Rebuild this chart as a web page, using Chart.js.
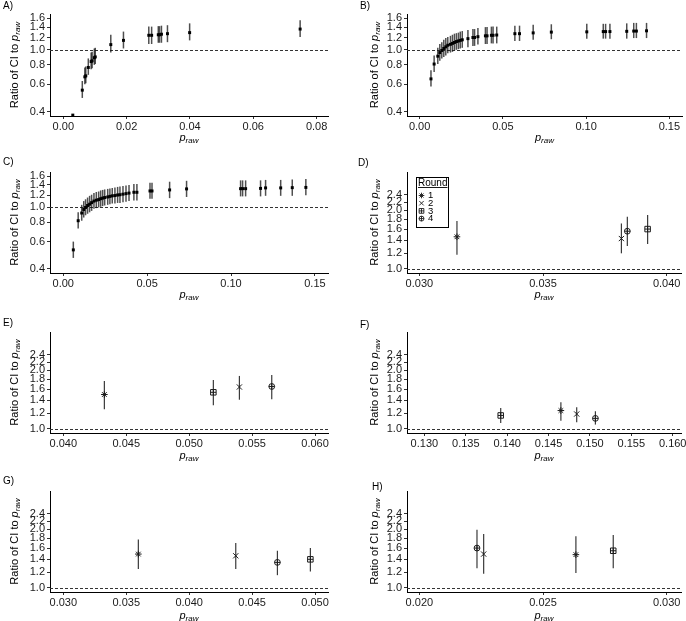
<!DOCTYPE html>
<html>
<head>
<meta charset="utf-8">
<script src="https://cdn.jsdelivr.net/npm/chart.js@4.4.1/dist/chart.umd.min.js"></script>
<style>
  html, body { margin: 0; padding: 0; background: #fff; }
  #fig { position: relative; width: 686px; height: 621px; overflow: hidden; }
  #fig canvas { position: absolute; }
</style>
</head>
<body>
<div id="fig"></div>
<script>
// ---------- data ----------
const yTicksWide = [0.4, 0.6, 0.8, 1.0, 1.2, 1.4, 1.6];
const yTicksRound = [1.0, 1.2, 1.4, 1.6, 1.8, 2.0, 2.2, 2.4];
const rounds = ['1', '2', '3', '4'];
const legendTitle = 'Round';
const refRatio = 1.0;

// A)
const xTicksA = [0, 0.02, 0.04, 0.06, 0.08];
const pA  = [0.0030, 0.0060, 0.0068, 0.0071, 0.0079, 0.0088, 0.0091, 0.0098, 0.0101, 0.0150, 0.0190, 0.0270, 0.0279, 0.0300, 0.0304, 0.0310, 0.0329, 0.0399, 0.0748];
const rA  = [0.38, 0.55, 0.67, 0.68, 0.77, 0.84, 0.85, 0.89, 0.90, 1.08, 1.15, 1.24, 1.24, 1.25, 1.25, 1.26, 1.27, 1.29, 1.36];
const loA = [0.375, 0.49, 0.60, 0.61, 0.69, 0.75, 0.76, 0.80, 0.81, 0.96, 1.02, 1.09, 1.09, 1.11, 1.11, 1.11, 1.12, 1.15, 1.21];
const hiA = [0.385, 0.63, 0.77, 0.78, 0.88, 0.96, 0.97, 1.02, 1.03, 1.25, 1.31, 1.41, 1.41, 1.42, 1.42, 1.43, 1.44, 1.48, 1.55];

// B)
const xTicksB = [0, 0.05, 0.10, 0.15];
const pB  = [0.0068, 0.0087, 0.0109, 0.0121, 0.0133, 0.0145, 0.0157, 0.0169, 0.0185, 0.0197, 0.0209, 0.0221, 0.0233, 0.0244, 0.0256, 0.0290, 0.0320, 0.0330, 0.0350, 0.0395, 0.0405, 0.0431, 0.0441, 0.0463, 0.0572, 0.0600, 0.0682, 0.0791, 0.1004, 0.1103, 0.1117, 0.1143, 0.1244, 0.1286, 0.1302, 0.1363];
const rB  = [0.65, 0.81, 0.91, 0.96, 0.99, 1.02, 1.045, 1.07, 1.085, 1.10, 1.115, 1.13, 1.14, 1.15, 1.16, 1.18, 1.20, 1.20, 1.215, 1.23, 1.23, 1.24, 1.24, 1.245, 1.27, 1.27, 1.285, 1.30, 1.305, 1.31, 1.31, 1.31, 1.315, 1.32, 1.32, 1.325];
const loB = [0.58, 0.72, 0.81, 0.85, 0.88, 0.90, 0.92, 0.95, 0.96, 0.97, 0.99, 1.00, 1.01, 1.02, 1.03, 1.04, 1.06, 1.06, 1.08, 1.09, 1.09, 1.10, 1.10, 1.10, 1.14, 1.14, 1.16, 1.17, 1.18, 1.18, 1.18, 1.18, 1.18, 1.19, 1.19, 1.19];
const hiB = [0.74, 0.92, 1.03, 1.09, 1.12, 1.16, 1.19, 1.21, 1.23, 1.25, 1.27, 1.28, 1.29, 1.31, 1.32, 1.34, 1.36, 1.36, 1.38, 1.40, 1.40, 1.41, 1.41, 1.41, 1.43, 1.43, 1.45, 1.46, 1.47, 1.47, 1.47, 1.47, 1.48, 1.49, 1.49, 1.49];

// C)
const xTicksC = [0, 0.05, 0.10, 0.15];
const pC  = [0.0060, 0.0089, 0.0110, 0.0122, 0.0133, 0.0145, 0.0157, 0.0169, 0.0183, 0.0197, 0.0211, 0.0223, 0.0235, 0.0247, 0.0265, 0.0278, 0.0292, 0.0308, 0.0324, 0.0338, 0.0356, 0.0374, 0.0392, 0.0421, 0.0439, 0.0517, 0.0529, 0.0634, 0.0735, 0.1057, 0.1069, 0.1087, 0.1176, 0.1206, 0.1296, 0.1365, 0.1446];
const rC  = [0.53, 0.82, 0.92, 0.97, 1.00, 1.03, 1.05, 1.075, 1.10, 1.115, 1.125, 1.14, 1.15, 1.16, 1.17, 1.18, 1.19, 1.195, 1.205, 1.21, 1.22, 1.23, 1.24, 1.255, 1.255, 1.28, 1.28, 1.30, 1.32, 1.325, 1.325, 1.325, 1.33, 1.34, 1.34, 1.345, 1.35];
const loC = [0.47, 0.73, 0.82, 0.86, 0.89, 0.91, 0.93, 0.95, 0.98, 0.99, 1.00, 1.01, 1.02, 1.03, 1.04, 1.05, 1.06, 1.06, 1.07, 1.07, 1.08, 1.09, 1.10, 1.11, 1.11, 1.14, 1.14, 1.15, 1.17, 1.18, 1.18, 1.18, 1.18, 1.19, 1.19, 1.19, 1.20];
const hiC = [0.60, 0.93, 1.04, 1.10, 1.13, 1.16, 1.19, 1.21, 1.24, 1.26, 1.27, 1.29, 1.30, 1.31, 1.32, 1.33, 1.34, 1.35, 1.36, 1.37, 1.38, 1.39, 1.40, 1.42, 1.42, 1.45, 1.45, 1.47, 1.49, 1.50, 1.50, 1.50, 1.50, 1.51, 1.51, 1.52, 1.53];

// D) to H): one value per round (1, 2, 3, 4)
const xTicksD = [0.030, 0.035, 0.040];
const pD  = [0.03152, 0.03817, 0.03923, 0.03841];
const rD  = [1.46, 1.43, 1.60, 1.56];
const loD = [1.18, 1.20, 1.34, 1.31];
const hiD = [1.76, 1.71, 1.89, 1.85];

const xTicksE = [0.040, 0.045, 0.050, 0.055, 0.060];
const pE  = [0.04326, 0.05399, 0.05192, 0.05656];
const rE  = [1.50, 1.64, 1.54, 1.65];
const loE = [1.26, 1.41, 1.32, 1.42];
const hiE = [1.76, 1.87, 1.78, 1.89];

const xTicksF = [0.130, 0.135, 0.140, 0.145, 0.150, 0.155, 0.160];
const pF  = [0.14649, 0.14840, 0.13922, 0.15066];
const rF  = [1.24, 1.19, 1.17, 1.13];
const loF = [1.10, 1.08, 1.07, 1.05];
const hiF = [1.37, 1.29, 1.28, 1.23];

const xTicksG = [0.030, 0.035, 0.040, 0.045, 0.050];
const pG  = [0.03596, 0.04370, 0.04963, 0.04701];
const rG  = [1.49, 1.46, 1.40, 1.35];
const loG = [1.25, 1.25, 1.21, 1.16];
const hiG = [1.77, 1.70, 1.60, 1.55];

const xTicksH = [0.020, 0.025, 0.030];
const pH  = [0.02633, 0.02260, 0.02784, 0.02233];
const rH  = [1.48, 1.49, 1.55, 1.60];
const loH = [1.19, 1.18, 1.26, 1.26];
const hiH = [1.84, 1.89, 1.87, 1.99];

// ---------- layout ----------
const cols = [
  { left: 0,   width: 343, plotLeft: 50, plotRight: 328, titleX: 15 },
  { left: 343, width: 343, plotLeft: 64, plotRight: 341, titleX: 32 }
];
const rows = [
  { top: 0,   height: 155, plotTop: 14, plotBottom: 116, xTitleDy: 22 },
  { top: 155, height: 155, plotTop: 17, plotBottom: 118, xTitleDy: 22 },
  { top: 310, height: 155, plotTop: 22, plotBottom: 123, xTitleDy: 23 },
  { top: 465, height: 156, plotTop: 26, plotBottom: 127, xTitleDy: 24 }
];

const panels = [
  { name: 'A)', col: 0, row: 0, letter: [3, 6],  p: pA, r: rA, lo: loA, hi: hiA, xTicks: xTicksA, dec: 2, xMin: -0.0042, xMax: 0.0836 },
  { name: 'B)', col: 1, row: 0, letter: [17, 6], p: pB, r: rB, lo: loB, hi: hiB, xTicks: xTicksB, dec: 2, xMin: -0.0076, xMax: 0.1576 },
  { name: 'C)', col: 0, row: 1, letter: [3, 7],  p: pC, r: rC, lo: loC, hi: hiC, xTicks: xTicksC, dec: 2, xMin: -0.0079, xMax: 0.1578 },
  { name: 'D)', col: 1, row: 1, letter: [15, 8], p: pD, r: rD, lo: loD, hi: hiD, xTicks: xTicksD, dec: 3, xMin: 0.0295, xMax: 0.04058, byRound: true,
    legend: { x: 73, y: 22, w: 32, h: 50 } },
  { name: 'E)', col: 0, row: 2, letter: [3, 13], p: pE, r: rE, lo: loE, hi: hiE, xTicks: xTicksE, dec: 3, xMin: 0.03894, xMax: 0.06103, byRound: true },
  { name: 'F)', col: 1, row: 2, letter: [17, 15], p: pF, r: rF, lo: loF, hi: hiF, xTicks: xTicksF, dec: 3, xMin: 0.1279, xMax: 0.1610, byRound: true },
  { name: 'G)', col: 0, row: 3, letter: [3, 16], p: pG, r: rG, lo: loG, hi: hiG, xTicks: xTicksG, dec: 3, xMin: 0.02894, xMax: 0.05103, byRound: true },
  { name: 'H)', col: 1, row: 3, letter: [29, 22], p: pH, r: rH, lo: loH, hi: hiH, xTicks: xTicksH, dec: 3, xMin: 0.0195, xMax: 0.03058, byRound: true }
];

const FONT = '"Liberation Sans", Arial, sans-serif';
const INK = '#1a1a1a';

// glyph layers per round: asterisk, cross, square with plus, circle with plus
const roundGlyphs = [
  [{ style: 'star', radius: 3.3 }],
  [{ style: 'crossRot', radius: 3.7 }],
  [{ style: 'rect', radius: 3.9 }, { style: 'cross', radius: 2.75 }],
  [{ style: 'circle', radius: 2.9 }, { style: 'cross', radius: 2.9 }]
];

const decor = {
  id: 'decor',
  beforeDatasetsDraw(chart) {
    const { ctx, chartArea: a, scales: { x, y } } = chart;
    ctx.save();
    const yy = Math.round(y.getPixelForValue(refRatio)) + 0.5;
    ctx.strokeStyle = '#333';
    ctx.lineWidth = 1;
    ctx.setLineDash([3, 2]);
    ctx.beginPath();
    ctx.moveTo(a.left, yy);
    ctx.lineTo(a.right, yy);
    ctx.stroke();
    ctx.setLineDash([]);
    chart.data.datasets.forEach(ds => {
      if (!ds.barColor) return;
      ctx.strokeStyle = ds.barColor;
      ctx.lineWidth = ds.barWidth;
      ds.data.forEach(pt => {
        const px = x.getPixelForValue(pt.x);
        ctx.beginPath();
        ctx.moveTo(px, y.getPixelForValue(pt.lo));
        ctx.lineTo(px, y.getPixelForValue(pt.hi));
        ctx.stroke();
      });
    });
    ctx.restore();
  },
  afterDraw(chart) {
    const { ctx, chartArea: a } = chart;
    const o = chart.options.plugins.decor;
    ctx.save();
    ctx.fillStyle = '#000';
    ctx.textBaseline = 'middle';
    ctx.textAlign = 'left';

    ctx.font = '10px ' + FONT;
    ctx.fillText(o.name, o.letter[0], o.letter[1]);

    const parts = [
      { t: 'Ratio of CI to ', f: '11px ' + FONT, dy: 0 },
      { t: 'p', f: 'italic 11px ' + FONT, dy: 0 },
      { t: 'raw', f: 'italic 8px ' + FONT, dy: 3 }
    ];
    let total = 0;
    parts.forEach(pt => { ctx.font = pt.f; pt.w = ctx.measureText(pt.t).width; total += pt.w; });
    ctx.save();
    ctx.translate(o.titleX, (a.top + a.bottom) / 2);
    ctx.rotate(-Math.PI / 2);
    let cx = -total / 2;
    parts.forEach(pt => { ctx.font = pt.f; ctx.fillText(pt.t, cx, pt.dy); cx += pt.w; });
    ctx.restore();

    const xp = [
      { t: 'p', f: 'italic 11px ' + FONT, dy: 0 },
      { t: 'raw', f: 'italic 8px ' + FONT, dy: 3 }
    ];
    total = 0;
    xp.forEach(pt => { ctx.font = pt.f; pt.w = ctx.measureText(pt.t).width; total += pt.w; });
    cx = (a.left + a.right) / 2 - total / 2;
    const ty = a.bottom + o.xTitleDy;
    xp.forEach(pt => { ctx.font = pt.f; ctx.fillText(pt.t, cx, ty + pt.dy); cx += pt.w; });

    if (o.legend) {
      const L = o.legend;
      ctx.fillStyle = '#fff';
      ctx.fillRect(L.x, L.y, L.w, L.h);
      ctx.strokeStyle = '#000';
      ctx.lineWidth = 1;
      ctx.strokeRect(L.x + 0.5, L.y + 0.5, L.w, L.h);
      ctx.fillStyle = '#000';
      ctx.font = '10px ' + FONT;
      ctx.fillText(legendTitle, L.x + 2, L.y + 6);
      const tw = ctx.measureText(legendTitle).width;
      ctx.fillRect(L.x + 2, L.y + 10, tw, 0.9);
      rounds.forEach((lab, i) => {
        const iy = L.y + 18.5 + i * 7.7;
        roundGlyphs[i].forEach(g => {
          ctx.save();
          ctx.strokeStyle = INK;
          ctx.fillStyle = 'rgba(0,0,0,0)';
          ctx.lineWidth = 0.9;
          Chart.helpers.drawPoint(ctx, { pointStyle: g.style, radius: g.radius * 0.85, rotation: 0, borderWidth: 0.9 }, L.x + 5.5, iy);
          ctx.restore();
        });
        ctx.fillStyle = '#000';
        ctx.font = '9.5px ' + FONT;
        ctx.fillText(lab, L.x + 12, iy);
      });
    }
    ctx.restore();
  }
};

function makePanel(P) {
  const col = cols[P.col], row = rows[P.row];
  const canvas = document.createElement('canvas');
  canvas.width = col.width;
  canvas.height = row.height;
  canvas.style.left = col.left + 'px';
  canvas.style.top = row.top + 'px';
  document.getElementById('fig').appendChild(canvas);

  const yTicks = P.byRound ? yTicksRound : yTicksWide;
  const yMin = P.byRound ? 0.95 : 0.375;
  const yMax = P.byRound ? 3.15 : 1.70;

  let datasets = [];
  if (P.byRound) {
    rounds.forEach((lab, i) => {
      roundGlyphs[i].forEach((g, k) => {
        datasets.push({
          label: lab,
          data: [{ x: P.p[i], y: P.r[i], lo: P.lo[i], hi: P.hi[i] }],
          pointStyle: g.style,
          pointRadius: g.radius,
          pointBorderWidth: 1,
          borderColor: INK,
          backgroundColor: 'rgba(0,0,0,0)',
          barColor: k === 0 ? '#3a3a3a' : null,
          barWidth: 1.2
        });
      });
    });
  } else {
    datasets = [{
      label: 'ratio',
      data: P.p.map((v, i) => ({ x: v, y: P.r[i], lo: P.lo[i], hi: P.hi[i] })),
      pointStyle: 'rect',
      pointRadius: 2.1,
      pointBorderWidth: 0,
      backgroundColor: '#000',
      barColor: 'rgba(20,20,20,0.75)',
      barWidth: 1.5
    }];
  }

  const tickFont = { family: FONT, size: 11 };
  new Chart(canvas, {
    type: 'scatter',
    data: { datasets: datasets },
    options: {
      responsive: false,
      animation: false,
      events: [],
      layout: { padding: { left: 0, top: row.plotTop, right: col.width - col.plotRight, bottom: 0 } },
      plugins: {
        legend: { display: false },
        tooltip: { enabled: false },
        decor: { name: P.name, letter: P.letter, titleX: col.titleX, xTitleDy: row.xTitleDy, legend: P.legend }
      },
      scales: {
        x: {
          type: 'linear',
          min: P.xMin,
          max: P.xMax,
          afterBuildTicks: s => { s.ticks = P.xTicks.map(v => ({ value: v })); },
          afterFit: s => { s.height = row.height - row.plotBottom; s.paddingLeft = 0; s.paddingRight = 0; },
          ticks: { autoSkip: false, maxRotation: 0, padding: 1, color: INK, font: tickFont,
                   callback: v => Number(v).toFixed(P.dec) },
          grid: { drawOnChartArea: false, drawTicks: true, tickLength: 3, color: '#333' },
          border: { display: true, color: '#000', width: 1 }
        },
        y: {
          type: 'logarithmic',
          min: yMin,
          max: yMax,
          afterBuildTicks: s => { s.ticks = yTicks.map(v => ({ value: v })); },
          afterFit: s => { s.width = col.plotLeft; s.paddingTop = 0; s.paddingBottom = 0; },
          ticks: { autoSkip: false, padding: 2, color: INK, font: tickFont,
                   callback: v => Number(v).toFixed(1) },
          grid: { drawOnChartArea: false, drawTicks: true, tickLength: 3, color: '#333' },
          border: { display: true, color: '#000', width: 1 }
        }
      }
    },
    plugins: [decor]
  });
}

panels.forEach(makePanel);
</script>
</body>
</html>
